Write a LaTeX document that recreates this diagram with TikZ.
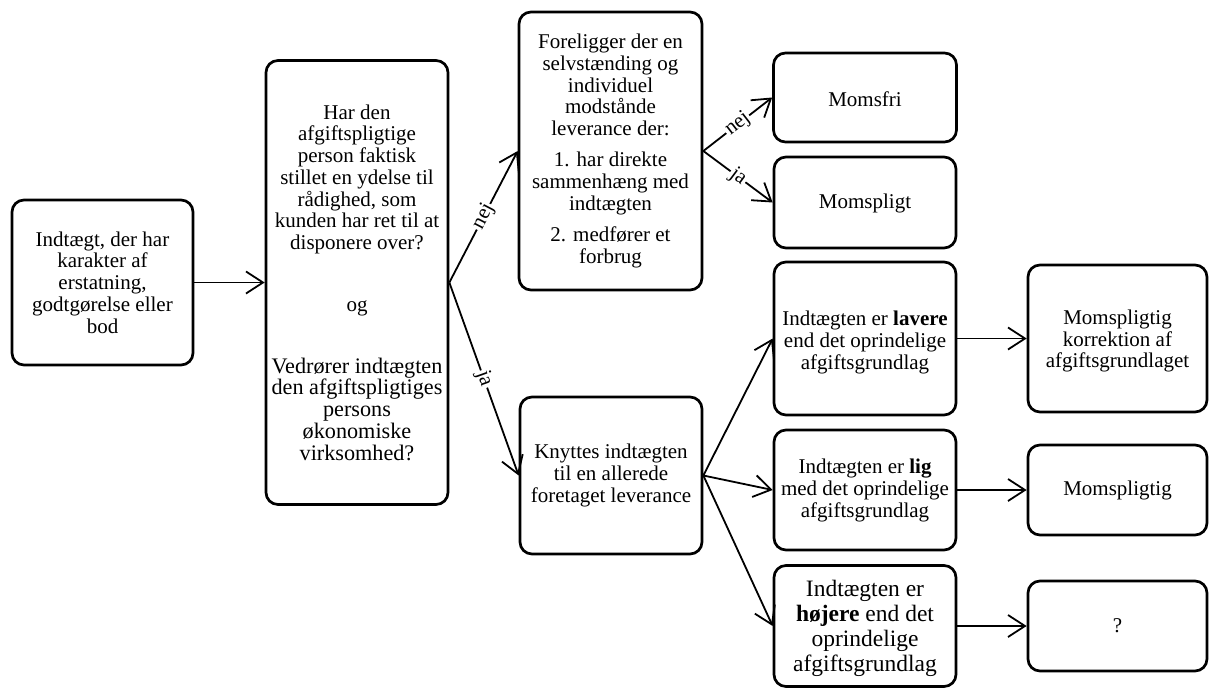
\documentclass[tikz,border=0pt]{standalone}
\usepackage{fontspec}
\setmainfont{Liberation Serif}
\usetikzlibrary{arrows.meta}
\newcommand\lgtext[1]{{\fontsize{22.2}{21.75}\selectfont #1}}
\begin{document}
\begin{tikzpicture}[x=1pt,y=-1pt,
  box/.style={draw, line width=2.7pt, rounded corners=12pt, align=center,
    inner sep=0pt, font=\fontsize{21}{21.75}\selectfont},
  conn/.style={line width=1.8pt, -{Straight Barb[length=17pt,width=22pt,line width=1.8pt]}},
  lbl/.style={sloped, midway, fill=white, inner sep=1.5pt, font=\fontsize{21}{21.75}\selectfont}]
\useasboundingbox (0,0) rectangle (1209,688);
\node[box, minimum width=181pt, minimum height=165pt] (A) at (102.5,282.5)
  {Indtægt, der har\\karakter af\\erstatning,\\godtgørelse eller\\bod};
\node[box, minimum width=182pt, minimum height=444pt] (B) at (357,282.5)
  {Har den\\afgiftspligtige\\person faktisk\\stillet en ydelse til\\rådighed, som\\kunden har ret til at\\disponere over?\\[40pt]og\\[40pt]\lgtext{Vedrører indtægten}\\\lgtext{den afgiftspligtiges}\\\lgtext{persons}\\\lgtext{økonomiske}\\\lgtext{virksomhed?}};
\node[box, minimum width=183pt, minimum height=278pt] (C) at (610.5,151)
  {Foreligger der en\\selvstænding og\\individuel\\modstånde\\leverance der:\\[9.5pt]1. har direkte\\sammenhæng med\\indtægten\\[9.5pt]2. medfører et\\forbrug};
\node[box, minimum width=183pt, minimum height=89pt] (D) at (865,97.5) {\rule{0pt}{18pt}Momsfri};
\node[box, minimum width=182pt, minimum height=91pt] (E) at (865,202.5) {\rule{0pt}{17pt}Momspligt};
\node[box, minimum width=182pt, minimum height=157pt] (F) at (611,475.5)
  {Knyttes indtægten\\til en allerede\\foretaget leverance};
\node[box, minimum width=182pt, minimum height=153pt] (G) at (865,338.5)
  {\rule{0pt}{22.3pt}Indtægten er \textbf{lavere}\\end det oprindelige\\afgiftsgrundlag};
\node[box, minimum width=182pt, minimum height=120pt] (H) at (865,490)
  {\rule{0pt}{16pt}Indtægten er \textbf{lig}\\med det oprindelige\\afgiftsgrundlag};
\node[box, minimum width=182pt, minimum height=121pt, font=\fontsize{23.5}{25}\selectfont] (I) at (865,626)
  {\rule{0pt}{22pt}Indtægten er\\\textbf{højere} end det\\oprindelige\\afgiftsgrundlag};
\node[box, minimum width=179pt, minimum height=147pt] (J) at (1117.5,338.5)
  {\rule{0pt}{20pt}Momspligtig\\korrektion af\\afgiftsgrundlaget};
\node[box, minimum width=179pt, minimum height=90pt] (K) at (1117.5,490) {Momspligtig};
\node[box, minimum width=179pt, minimum height=90pt] (L) at (1117.5,626) {?};
\draw[conn] (A.east) -- (B.west);
\draw[conn] (B.east) -- node[lbl] {nej} (C.west);
\draw[conn] (B.east) -- node[lbl] {ja} (F.west);
\draw[conn] (C.east) -- node[lbl] {nej} (D.west);
\draw[conn] (C.east) -- node[lbl] {ja} (E.west);
\draw[conn] (F.east) -- (G.west);
\draw[conn] (F.east) -- (H.west);
\draw[conn] (F.east) -- (I.west);
\draw[conn] (G.east) -- (J.west);
\draw[conn] (H.east) -- (K.west);
\draw[conn] (I.east) -- (L.west);
\end{tikzpicture}
\end{document}
